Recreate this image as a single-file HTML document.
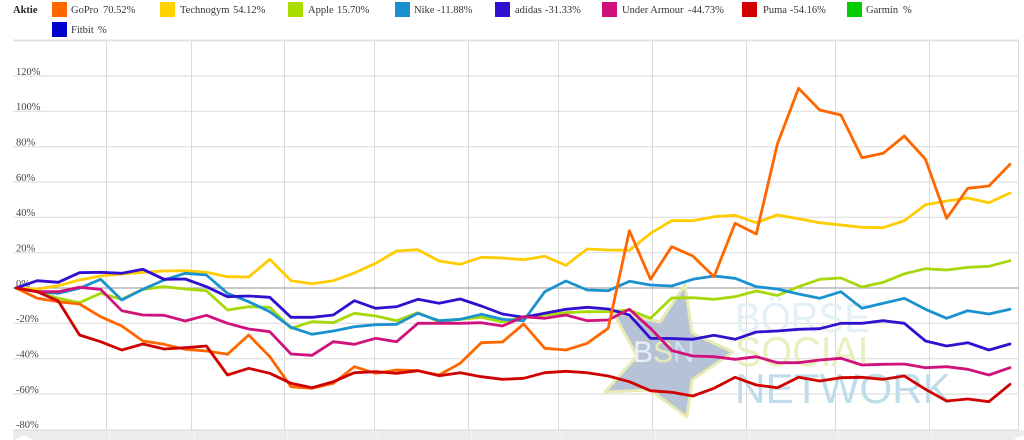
<!DOCTYPE html>
<html>
<head>
<meta charset="utf-8">
<style>
html,body{margin:0;padding:0;background:#fff;}
body{width:1024px;height:440px;overflow:hidden;position:relative;font-family:"Liberation Serif",serif;}
.lg{position:absolute;font-size:10.5px;color:#333;white-space:nowrap;line-height:12px;}
.sw{position:absolute;width:15px;height:15px;}
svg{position:absolute;left:0;top:0;}
</style>
</head>
<body>
<svg width="1024" height="440" viewBox="0 0 1024 440" xmlns="http://www.w3.org/2000/svg">
  <!-- bottom band -->
  <rect x="13" y="430" width="1011" height="10" fill="#ececec"/>
  <line x1="13" y1="430" x2="1019" y2="430" stroke="#d6d6d6" stroke-width="1"/>
  <g stroke="#f6f6f6" stroke-width="1">
    <line x1="109.5" y1="431" x2="109.5" y2="440"/>
    <line x1="194.5" y1="431" x2="194.5" y2="440"/>
    <line x1="287.5" y1="431" x2="287.5" y2="440"/>
    <line x1="377.5" y1="431" x2="377.5" y2="440"/>
    <line x1="471.5" y1="431" x2="471.5" y2="440"/>
    <line x1="561.5" y1="431" x2="561.5" y2="440"/>
    <line x1="655.5" y1="431" x2="655.5" y2="440"/>
    <line x1="749.5" y1="431" x2="749.5" y2="440"/>
    <line x1="838.5" y1="431" x2="838.5" y2="440"/>
    <line x1="932.5" y1="431" x2="932.5" y2="440"/>
  </g>
  <circle cx="24" cy="446" r="10" fill="#fff"/>
  <circle cx="1022" cy="446" r="10" fill="#fff"/>
  <!-- top border -->
  <line x1="13" y1="40.5" x2="1019" y2="40.5" stroke="#e2e2e2" stroke-width="2"/>
  <!-- vertical gridlines -->
  <g stroke="#dadada" stroke-width="1">
    <line x1="106.5" y1="41" x2="106.5" y2="430"/>
    <line x1="191.5" y1="41" x2="191.5" y2="430"/>
    <line x1="284.5" y1="41" x2="284.5" y2="430"/>
    <line x1="374.5" y1="41" x2="374.5" y2="430"/>
    <line x1="468.5" y1="41" x2="468.5" y2="430"/>
    <line x1="558.5" y1="41" x2="558.5" y2="430"/>
    <line x1="652.5" y1="41" x2="652.5" y2="430"/>
    <line x1="746.5" y1="41" x2="746.5" y2="430"/>
    <line x1="835.5" y1="41" x2="835.5" y2="430"/>
    <line x1="929.5" y1="41" x2="929.5" y2="430"/>
    <line x1="1018.5" y1="41" x2="1018.5" y2="430"/>
  </g>
  <!-- horizontal gridlines -->
  <g stroke="#dadada" stroke-width="1">
    <line x1="13" y1="76" x2="1019" y2="76"/>
    <line x1="13" y1="111.3" x2="1019" y2="111.3"/>
    <line x1="13" y1="146.7" x2="1019" y2="146.7"/>
    <line x1="13" y1="182" x2="1019" y2="182"/>
    <line x1="13" y1="217.3" x2="1019" y2="217.3"/>
    <line x1="13" y1="252.7" x2="1019" y2="252.7"/>
    <line x1="13" y1="323.3" x2="1019" y2="323.3"/>
    <line x1="13" y1="358.7" x2="1019" y2="358.7"/>
    <line x1="13" y1="394" x2="1019" y2="394"/>
  </g>
  <line x1="13" y1="288" x2="1019" y2="288" stroke="#a8a8a8" stroke-width="1.2"/>
  <!-- y labels -->
  <g font-family="Liberation Serif, serif" font-size="10.5" fill="#444">
    <text x="16" y="75">120%</text>
    <text x="16" y="110">100%</text>
    <text x="16" y="145.5">80%</text>
    <text x="16" y="181">60%</text>
    <text x="16" y="216">40%</text>
    <text x="16" y="251.5">20%</text>
    <text x="16" y="287">0%</text>
    <text x="16" y="322">-20%</text>
    <text x="16" y="357.5">-40%</text>
    <text x="16" y="393">-60%</text>
    <text x="16" y="428">-80%</text>
  </g>
  <!-- watermark star -->
  <polygon points="685,285 692,333 733,352 692,380 687,417 650,390 605,392 637,356 613,312 660,322" fill="#b6c2d6" stroke="#e6eab4" stroke-width="3" stroke-linejoin="round"/>
  <g font-family="Liberation Sans, sans-serif" font-size="30">
    <text x="633" y="362" fill="#eaeff5">B</text>
    <text x="653" y="362" fill="#e6ecb8">S</text>
    <text x="673" y="362" fill="#cfe0ee">N</text>
  </g>
  <g font-family="Liberation Sans, sans-serif" font-size="42">
    <text x="735" y="332" fill="#e3f1f7" textLength="135" lengthAdjust="spacingAndGlyphs">BÖRSE</text>
    <text x="735" y="366" fill="#e6efbd" textLength="145" lengthAdjust="spacingAndGlyphs">SOCIAL</text>
    <text x="735" y="403" fill="#bedcea" textLength="216" lengthAdjust="spacingAndGlyphs">NETWORK</text>
  </g>
  <!-- series -->
  <g fill="none" stroke-width="2.8" stroke-linejoin="round" stroke-linecap="round">
    <polyline stroke="#ffcc00" points="16,288 37.2,289 58.3,285.7 79.5,280 100.6,276 121.8,274 142.9,272.3 164.1,271 185.2,270.7 206.4,272.3 227.5,276.7 248.7,277 269.8,259.3 291,280.7 312.1,283.7 333.3,280.7 354.4,273 375.6,263.3 396.7,251 417.9,249.7 439,261 460.2,264.3 481.3,257.3 502.5,258 523.6,259.7 544.8,256.3 565.9,265.3 587.1,249 608.2,250 629.4,250.3 650.5,233.3 671.7,220.7 692.8,220.7 714,216.7 735.1,215.3 756.3,222.7 777.4,215 798.6,218.7 819.7,222.7 840.9,225 862,227.3 883.2,227.7 904.3,220.7 925.5,204.7 946.6,201 967.8,198 988.9,202.7 1010,193"/>
    <polyline stroke="#a6d80a" points="16,288 37.2,291.7 58.3,298.3 79.5,302.7 100.6,293.3 121.8,299.3 142.9,289.3 164.1,286.7 185.2,289 206.4,290.7 227.5,310 248.7,306.7 269.8,307.3 291,328.3 312.1,321.7 333.3,322.7 354.4,313.3 375.6,316 396.7,320.7 417.9,312.7 439,321.7 460.2,319.3 481.3,317.3 502.5,322 523.6,316.7 544.8,315 565.9,312.7 587.1,311.7 608.2,311.7 629.4,310 650.5,318.3 671.7,298 692.8,297.7 714,299.3 735.1,296.7 756.3,291 777.4,295.5 798.6,286.7 819.7,279.3 840.9,278 862,287 883.2,282.3 904.3,273.8 925.5,268.7 946.6,270 967.8,267.3 988.9,266.3 1010,260.7"/>
    <polyline stroke="#1a92d0" points="16,288 37.2,291.7 58.3,293.3 79.5,288.3 100.6,279.3 121.8,300 142.9,289.3 164.1,280 185.2,273.3 206.4,275 227.5,293.3 248.7,301.7 269.8,311.7 291,327.3 312.1,334.3 333.3,331 354.4,326.7 375.6,324.7 396.7,324.3 417.9,313.3 439,320.7 460.2,319.3 481.3,314.3 502.5,319.3 523.6,320.7 544.8,291.7 565.9,281 587.1,290 608.2,290.7 629.4,281.3 650.5,285 671.7,286 692.8,279.3 714,276 735.1,278.3 756.3,286.7 777.4,289 798.6,294 819.7,298.3 840.9,291.7 862,308.3 883.2,303.3 904.3,298.3 925.5,309.3 946.6,318.3 967.8,310.7 988.9,314 1010,309.3"/>
    <polyline stroke="#3210cf" points="16,288 37.2,280.7 58.3,282.3 79.5,272.7 100.6,272.3 121.8,273.3 142.9,269.3 164.1,279.3 185.2,279 206.4,286.7 227.5,296.7 248.7,296 269.8,297.3 291,317.3 312.1,317.3 333.3,315 354.4,300.7 375.6,308.3 396.7,306.7 417.9,299.3 439,303.3 460.2,299 481.3,306 502.5,314 523.6,317.3 544.8,313.3 565.9,309.3 587.1,307.3 608.2,309 629.4,315 650.5,338.3 671.7,338.5 692.8,339.3 714,335.3 735.1,339.3 756.3,332 777.4,331 798.6,329.3 819.7,328.7 840.9,323.3 862,323.3 883.2,320.7 904.3,323.3 925.5,341 946.6,346 967.8,342.7 988.9,350 1010,344"/>
    <polyline stroke="#d0137c" points="16,288 37.2,291.7 58.3,291.7 79.5,287.3 100.6,289.3 121.8,310.7 142.9,315 164.1,315.3 185.2,321 206.4,315.3 227.5,323.3 248.7,329 269.8,331.7 291,354 312.1,355.3 333.3,341.7 354.4,344.3 375.6,338.3 396.7,341.7 417.9,323.3 439,323.3 460.2,323.3 481.3,322.7 502.5,326 523.6,316.7 544.8,318.3 565.9,315 587.1,320.7 608.2,320 629.4,309.3 650.5,328.3 671.7,350.5 692.8,356 714,356.7 735.1,359.3 756.3,356.7 777.4,362.7 798.6,362.7 819.7,360 840.9,358.3 862,365 883.2,364.3 904.3,364 925.5,367.7 946.6,366.7 967.8,369.3 988.9,375 1010,367.7"/>
    <polyline stroke="#ff6600" points="16,288 37.2,298.3 58.3,301.7 79.5,304 100.6,316.7 121.8,326 142.9,341 164.1,344.3 185.2,349.3 206.4,351 227.5,354.3 248.7,335 269.8,356.7 291,386.7 312.1,388.3 333.3,383.3 354.4,366.7 375.6,373.3 396.7,370 417.9,370.7 439,375 460.2,363.3 481.3,342.7 502.5,342 523.6,324 544.8,348.3 565.9,350 587.1,343.3 608.2,328.3 629.4,230.7 650.5,279.3 671.7,246.7 692.8,256 714,276.7 735.1,223.3 756.3,234 777.4,144 798.6,88.3 819.7,110 840.9,115 862,157.7 883.2,153.3 904.3,136 925.5,159.3 946.6,218.3 967.8,188.3 988.9,186 1010,164.3"/>
    <polyline stroke="#cf0202" points="16,288 37.2,291.7 58.3,301 79.5,335 100.6,341.7 121.8,350 142.9,344 164.1,349 185.2,347.7 206.4,346 227.5,375 248.7,368.3 269.8,373.3 291,383.3 312.1,387.7 333.3,381.7 354.4,372.7 375.6,371.7 396.7,373.3 417.9,370.7 439,375.7 460.2,372.7 481.3,376.7 502.5,379.3 523.6,378.3 544.8,372.7 565.9,371.3 587.1,372.7 608.2,376 629.4,381.7 650.5,390.7 671.7,392.3 692.8,396 714,388.3 735.1,377.3 756.3,385 777.4,387.7 798.6,377.3 819.7,381 840.9,377.7 862,377.3 883.2,379.3 904.3,376 925.5,389.3 946.6,401 967.8,399 988.9,401.7 1010,384.3"/>
  </g>
</svg>

<!-- legend -->
<div class="lg" style="left:13px;top:5px;font-weight:bold;color:#222;">Aktie</div>

<div class="sw" style="left:52px;top:2px;background:#ff6600;"></div>
<div class="lg" style="left:71px;top:5px;">GoPro</div>
<div class="lg" style="left:103px;top:5px;">70.52%</div>

<div class="sw" style="left:160px;top:2px;background:#ffd200;"></div>
<div class="lg" style="left:180px;top:5px;">Technogym</div>
<div class="lg" style="left:233px;top:5px;">54.12%</div>

<div class="sw" style="left:288px;top:2px;background:#aadc00;"></div>
<div class="lg" style="left:308px;top:5px;">Apple</div>
<div class="lg" style="left:337px;top:5px;">15.70%</div>

<div class="sw" style="left:395px;top:2px;background:#1a8fd0;"></div>
<div class="lg" style="left:414px;top:5px;">Nike</div>
<div class="lg" style="left:437px;top:5px;">-11.88%</div>

<div class="sw" style="left:495px;top:2px;background:#3010d0;"></div>
<div class="lg" style="left:515px;top:5px;">adidas</div>
<div class="lg" style="left:545px;top:5px;">-31.33%</div>

<div class="sw" style="left:602px;top:2px;background:#d0107a;"></div>
<div class="lg" style="left:622px;top:5px;">Under Armour</div>
<div class="lg" style="left:688px;top:5px;">-44.73%</div>

<div class="sw" style="left:742px;top:2px;background:#d00000;"></div>
<div class="lg" style="left:763px;top:5px;">Puma</div>
<div class="lg" style="left:790px;top:5px;">-54.16%</div>

<div class="sw" style="left:847px;top:2px;background:#00cc00;"></div>
<div class="lg" style="left:866px;top:5px;">Garmin</div>
<div class="lg" style="left:903px;top:5px;">%</div>

<div class="sw" style="left:52px;top:22px;background:#0000cc;"></div>
<div class="lg" style="left:71px;top:25px;">Fitbit</div>
<div class="lg" style="left:98px;top:25px;">%</div>
</body>
</html>
